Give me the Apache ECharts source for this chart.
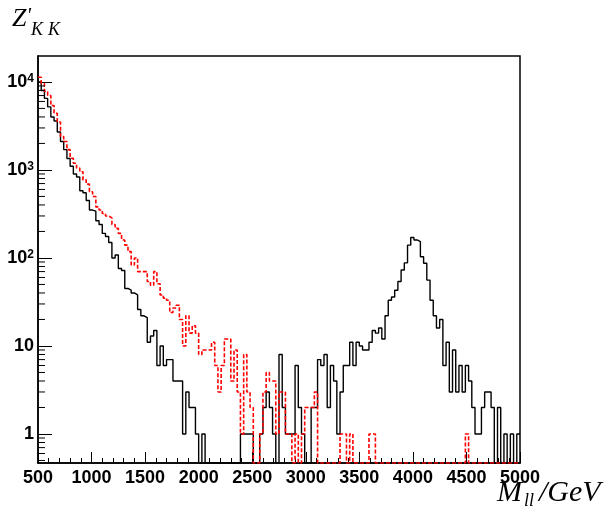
<!DOCTYPE html>
<html>
<head>
<meta charset="utf-8">
<script src="https://cdn.jsdelivr.net/npm/echarts@6/dist/echarts.min.js"></script>
<style>
html,body{margin:0;padding:0;background:#fff;}
#chart{width:607px;height:508px;}
</style>
</head>
<body>
<div id="chart"></div>
<script>
// 150 bins of 30 GeV from 500 to 5000
const binLow = 500;
const binWidth = 30;

// Z'_KK signal + background (black, solid)
const zkkCounts = [
  10000, 8000, 6500, 5200, 4000, 3600, 2700, 2100, 1700, 1350,
  1100, 900, 830, 580, 550, 450, 350, 340, 265, 240,
  190, 175, 150, 100, 108, 76, 72, 45, 43, 40,
  38, 26, 22, 21, 11, 13, 15, 6, 10, 6,
  7, 7, 4, 4, 4, 1, 3, 2, 2, 1,
  0, 1, 0, 0, 0, 0, 0, 0, 0, 0,
  0, 0, 0, 1, 1, 1, 1, 0, 0, 1,
  2, 3, 2, 1, 0, 8, 2, 1, 1, 1,
  6, 2, 1, 0, 0, 2, 2, 7, 6, 8,
  2, 6, 4, 1, 3, 6, 6, 11, 6, 11,
  10, 9, 9, 11, 15, 14, 16, 12, 22, 33,
  36, 43, 54, 73, 88, 140, 171, 160, 153, 103,
  87, 56, 33, 22, 16, 20, 6, 11, 3, 9,
  3, 6, 3, 6, 4, 2, 1, 1, 2, 3,
  3, 2, 0, 2, 0, 1, 0, 1, 0, 1
];

// Drell-Yan only (red, dashed)
const dyCounts = [
  11300, 9600, 7800, 7000, 5400, 4400, 3500, 2400, 2100, 1700,
  1360, 1190, 1050, 955, 770, 690, 565, 500, 380, 350,
  320, 300, 285, 240, 217, 190, 160, 140, 118, 83,
  100, 70, 70, 70, 54, 49, 70, 51, 38, 35,
  33, 24, 27, 29, 20, 10, 22, 14, 17, 14,
  8, 9, 9, 9, 11, 6, 3, 6, 12, 12,
  4, 9, 3, 1, 8, 3, 2, 0, 0, 1,
  3, 5, 4, 4, 1, 3, 3, 1, 1, 0,
  1, 0, 1, 2, 2, 2, 3, 0, 0, 0,
  0, 0, 0, 0, 1, 1, 0, 1, 0, 0,
  0, 0, 0, 1, 1, 0, 0, 0, 0, 0,
  0, 0, 0, 0, 0, 0, 0, 0, 0, 0,
  0, 0, 0, 0, 0, 0, 0, 0, 0, 0,
  0, 0, 0, 1, 0, 0, 0, 0, 0, 0,
  0, 0, 0, 0, 0, 0, 0, 0, 0, 0
];

const yMin = 0.468;
const yMax = 19700;

// log minor ticks 2..9 x 10^n
const yMinor = [];
for (let e = -1; e <= 4; e++) {
  for (let m = 2; m <= 9; m++) {
    const v = m * Math.pow(10, e);
    if (v > yMin && v < yMax) yMinor.push(v);
  }
}

// empty bins sit on the frame bottom, like ROOT does
function steps(vals) {
  let pts = vals.map(function (v, i) { return [binLow + i * binWidth, v > 0 ? v : yMin]; });
  pts.push([binLow + vals.length * binWidth, pts[pts.length - 1][1]]);
  return pts;
}

let chart = echarts.init(document.getElementById('chart'));
let serif = '"Liberation Serif", "DejaVu Serif", serif';
let sans = '"Liberation Sans", Arial, sans-serif';

function it(size, lh, extra) {
  let s = {fontFamily: serif, fontStyle: 'italic', fontWeight: 'normal', fontSize: size, lineHeight: lh, verticalAlign: 'top', color: '#000'};
  return Object.assign(s, extra || {});
}

let option = {
  backgroundColor: '#fff',
  animation: false,
  title: [{
    text: "{z|Z}{p|'}{s|K}{s2|K}",
    left: 12, top: 6, padding: 0,
    textStyle: {
      fontWeight: 'normal',
      rich: {
        z: it(26, 27),
        p: it(21, 22),
        s: it(18, 18, {padding: [15, 5, 0, 0]}),
        s2: it(18, 18, {padding: [15, 0, 0, 0]})
      }
    }
  }, {
    text: '{m|M}{s|ll}{m|/GeV}',
    left: 497, top: 478, padding: 0,
    textStyle: {
      fontWeight: 'normal',
      rich: {
        m: it(30, 30),
        s: it(18, 18, {padding: [14, 5, 0, 2]})
      }
    }
  }],
  grid: {
    left: 38, right: 87, top: 56, bottom: 45,
    show: true, borderColor: '#000', borderWidth: 1.5,
    containLabel: false
  },
  xAxis: {
    type: 'value', min: 500, max: 5000, interval: 500,
    axisLine: {lineStyle: {color: '#000', width: 1.5}},
    axisTick: {inside: true, length: 11, lineStyle: {color: '#000', width: 1}},
    minorTick: {show: true, splitNumber: 5, length: 5, lineStyle: {color: '#000', width: 1}},
    splitLine: {show: false},
    axisLabel: {
      color: '#000', fontFamily: sans, fontWeight: 'bold', fontSize: 18, margin: 6,
      formatter: function (v) { return String(v); }
    }
  },
  yAxis: {
    type: 'log', logBase: 10, min: yMin, max: yMax,
    axisLine: {lineStyle: {color: '#000', width: 1.5}},
    axisTick: {inside: true, length: 14, lineStyle: {color: '#000', width: 1}},
    splitLine: {show: false},
    axisLabel: {
      color: '#000', fontFamily: sans, fontWeight: 'bold', fontSize: 18, margin: 4,
      showMinLabel: false, showMaxLabel: false,
      formatter: function (v) {
        let l = Math.log10(v);
        let e = Math.round(l);
        if (Math.abs(l - e) > 1e-6) return '';
        if (e === 0) return '1';
        if (e === 1) return '10';
        return '10{sup|' + e + '}';
      },
      rich: {
        sup: {fontFamily: sans, fontWeight: 'bold', fontSize: 12, lineHeight: 12, verticalAlign: 'top', color: '#000'}
      }
    }
  },
  series: [{
    type: 'line', step: 'end', data: steps(zkkCounts),
    symbol: 'none', clip: true, z: 3,
    lineStyle: {color: '#000', width: 1.4}
  }, {
    type: 'line', step: 'end', data: steps(dyCounts),
    symbol: 'none', clip: true, z: 4,
    lineStyle: {color: '#ff0000', width: 1.6, type: [4, 2]}
  }, {
    // ROOT style minor ticks on the log axis
    type: 'custom', silent: true, clip: false, z: 5,
    data: yMinor.map(function (v) { return [500, v]; }),
    renderItem: function (params, api) {
      let p = api.coord([api.value(0), api.value(1)]);
      return {
        type: 'line',
        shape: {x1: p[0], y1: p[1], x2: p[0] + 7, y2: p[1]},
        style: {stroke: '#000', lineWidth: 1}
      };
    }
  }]
};
chart.setOption(option);
</script>
</body>
</html>
